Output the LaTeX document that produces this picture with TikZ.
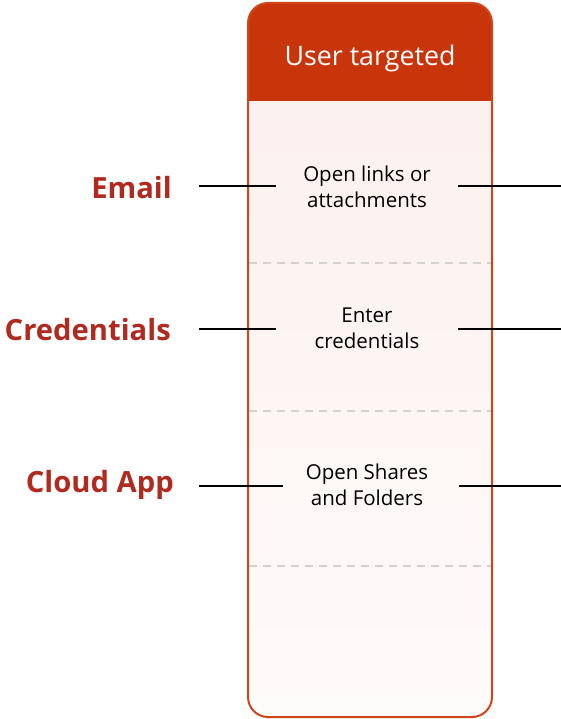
\documentclass[tikz,border=0pt]{standalone}
\usepackage{fontspec}
\setmainfont{Open Sans}
\usetikzlibrary{positioning}
\definecolor{hdred}{HTML}{C8350B}
\definecolor{edgered}{HTML}{D2451A}
\definecolor{lblred}{HTML}{B02A20}
\definecolor{bodytop}{HTML}{FBEFEC}
\definecolor{bodybot}{HTML}{FEFBFB}
\definecolor{sepgray}{HTML}{D4D0CF}
\tikzstyle{lbl}=[anchor=east, font=\fontsize{29.2}{32}\selectfont\bfseries, text=lblred, inner sep=0pt]
\tikzstyle{act}=[align=center, font=\fontsize{20.5}{26}\selectfont, inner sep=0pt]
\tikzstyle{link}=[line width=1.6pt, black]
\tikzstyle{sep}=[dashed, dash pattern=on 8pt off 6pt, line width=1.3pt, sepgray]

\begin{document}
\begin{tikzpicture}[x=1pt, y=-1pt]
		\useasboundingbox (0,0) rectangle (561,719);
		% column with header
		\begin{scope}
			\clip[rounded corners=20pt] (248,3) rectangle (492,717);
			\shade[top color=bodytop, bottom color=bodybot] (248,3) rectangle (492,717);
			\fill[hdred] (248,3) rectangle (492,101);
		\end{scope}
		\draw[sep] (249,263) -- (491,263);
		\draw[sep] (249,411) -- (491,411);
		\draw[sep] (249,566) -- (491,566);
		\draw[edgered, line width=2pt, rounded corners=20pt] (248,3) rectangle (492,717);
		\node[font=\fontsize{26.8}{30}\selectfont, text=white] (head) at (370,59) {User targeted};
		% rows
		\node[act] (open) at (367,187) {Open links or\\attachments};
		\node[act] (enter) at (367,328) {Enter\\credentials};
		\node[act] (share) at (367,485) {Open Shares\\and Folders};
		\node[lbl] (email) at (172,188) {Email};
		\node[lbl] (cred) at (171,330) {Credentials};
		\node[lbl] (cloud) at (174,485) {Cloud App};
		% line ends
		\coordinate (e1) at (199,186);
		\coordinate (e2) at (276,186);
		\coordinate (e3) at (458,186);
		\coordinate (e4) at (561,186);
		\coordinate (c1) at (199,329);
		\coordinate (c2) at (276,329);
		\coordinate (c3) at (458,329);
		\coordinate (c4) at (561,329);
		\coordinate (a1) at (199,486);
		\coordinate (a2) at (283,486);
		\coordinate (a3) at (459,486);
		\coordinate (a4) at (561,486);
		\draw[link] (e1) -- (e2);
		\draw[link] (e3) -- (e4);
		\draw[link] (c1) -- (c2);
		\draw[link] (c3) -- (c4);
		\draw[link] (a1) -- (a2);
		\draw[link] (a3) -- (a4);
	\end{tikzpicture}
\end{document}
